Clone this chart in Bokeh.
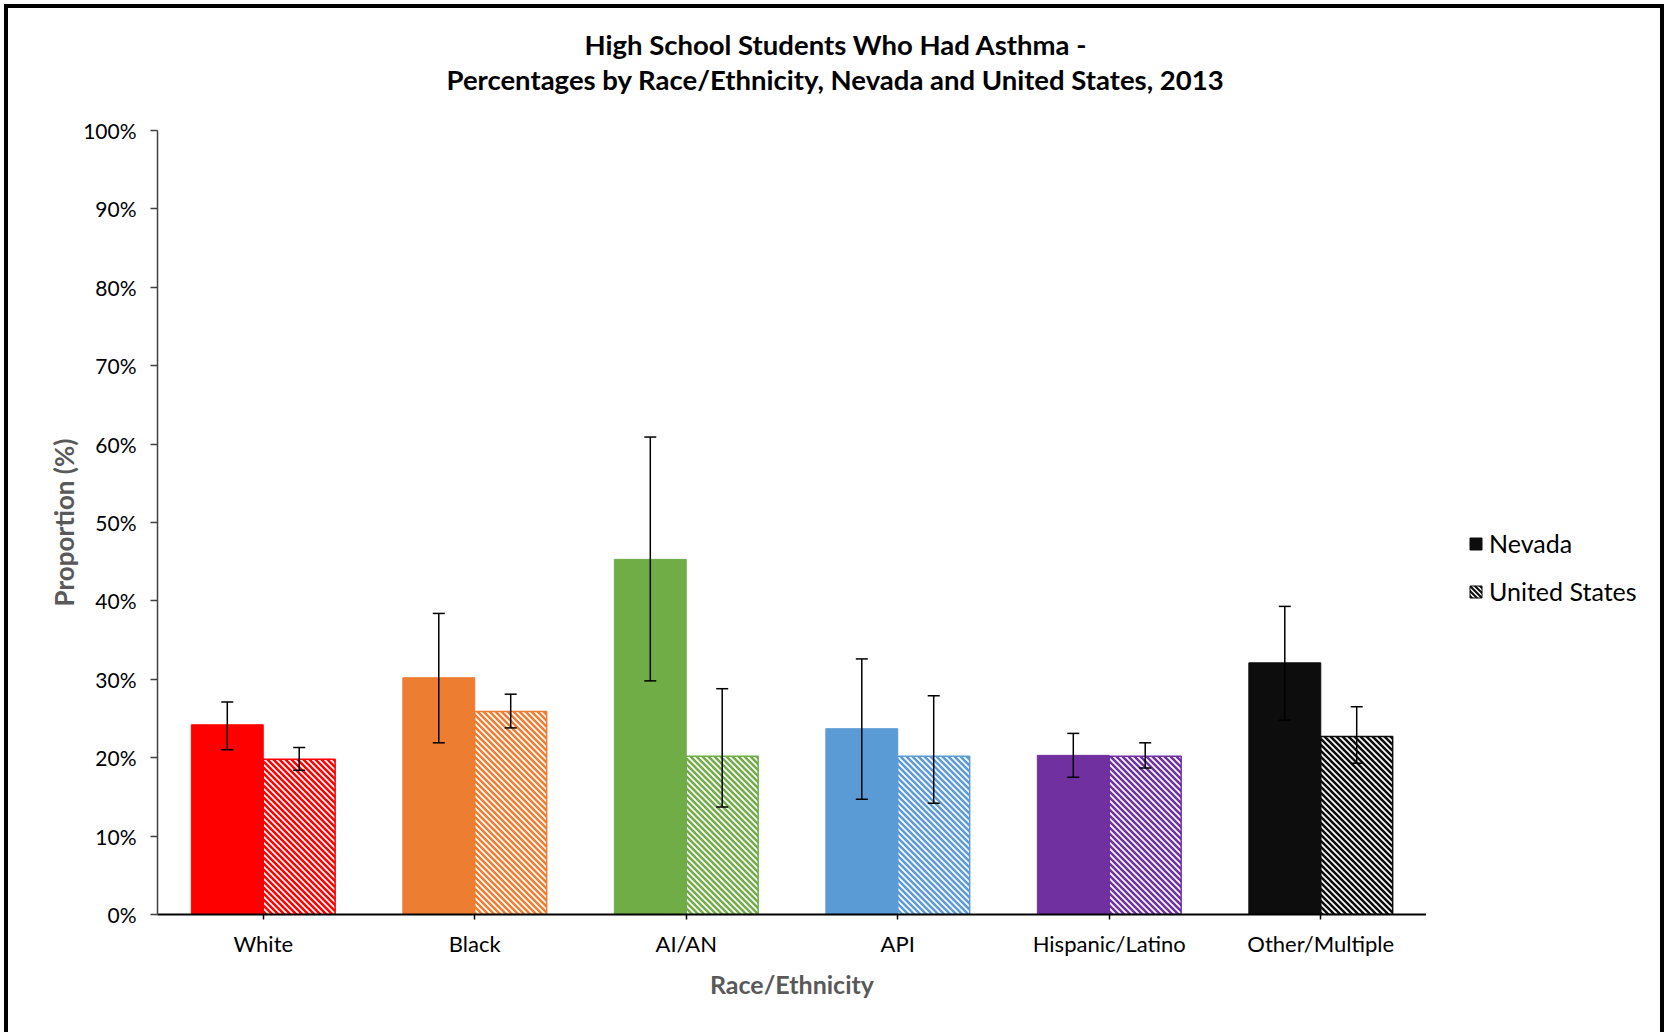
import base64
from bokeh.plotting import figure
from bokeh.layouts import row
from bokeh.models import (ColumnDataSource, FactorRange, Range1d, Whisker, TeeHead,
                          Legend, LegendItem, Title, PrintfTickFormatter, FixedTicker,
                          ImageURLTexture)
from bokeh.transform import dodge
from bokeh.embed import file_html
from bokeh.resources import INLINE

categories = ["White", "Black", "AI/AN", "API", "Hispanic/Latino", "Other/Multiple"]
nevada = [24.2, 30.2, 45.3, 23.7, 20.3, 32.1]
nevada_lower = [21.0, 21.9, 29.8, 14.7, 17.5, 24.8]
nevada_upper = [27.1, 38.4, 60.9, 32.6, 23.1, 39.3]
united_states = [19.8, 25.9, 20.2, 20.2, 20.2, 22.7]
us_lower = [18.4, 23.8, 13.7, 14.2, 18.7, 19.3]
us_upper = [21.3, 28.1, 28.8, 27.9, 21.9, 26.5]
colors = ["#FF0000", "#ED7D31", "#70AD47", "#5B9BD5", "#7030A0", "#0D0D0D"]
series_names = ["Nevada", "United States"]
y_ticks = [0, 10, 20, 30, 40, 50, 60, 70, 80, 90, 100]
title_line1 = "High School Students Who Had Asthma -"
title_line2 = "Percentages by Race/Ethnicity, Nevada and United States, 2013"

FONT = "Lato"


def stripe_texture(color, s=6, frac=0.3):
    """Seamless tile of downward ('\\') diagonal stripes in `color` on white."""
    d = s * frac
    svg = (f'<svg xmlns="http://www.w3.org/2000/svg" width="{s}" height="{s}">'
           f'<rect width="{s}" height="{s}" fill="white"/>'
           f'<path d="M0 0 L{d} 0 L{s} {s-d} L{s} {s} L{s-d} {s} L0 {d} Z '
           f'M{s-d} 0 L{s} 0 L{s} {d} Z M0 {s-d} L0 {s} L{d} {s} Z" fill="{color}"/>'
           f'</svg>')
    url = "data:image/svg+xml;base64," + base64.b64encode(svg.encode()).decode()
    return ImageURLTexture(url=url, repetition="repeat")


pattern_names = ["stripe%d" % i for i in range(len(colors))]
textures = {name: stripe_texture(c) for name, c in zip(pattern_names, colors)}

src = ColumnDataSource(data=dict(
    cat=categories, nv=nevada, nv_lo=nevada_lower, nv_hi=nevada_upper,
    us=united_states, us_lo=us_lower, us_hi=us_upper, color=colors, pat=pattern_names,
))

p = figure(
    x_range=FactorRange(*categories, range_padding=0),
    y_range=Range1d(0, 100),
    width=1418, height=1024, title=None,
    output_backend="svg", toolbar_location=None,
    min_border_left=149, min_border_right=0, min_border_top=122, min_border_bottom=118,
)

# titles: spacer nearest the frame, then line 2, then line 1
spacer = Title(text=" ", text_font_size="1px", standoff=32)
t2 = Title(text=title_line2, align="left", offset=289, standoff=0, text_font=FONT,
           text_font_size="27.5px", text_font_style="bold", text_color="#000000")
t1 = Title(text=title_line1, align="left", offset=427, standoff=0, text_font=FONT,
           text_font_size="27.5px", text_font_style="bold", text_color="#000000")
p.add_layout(spacer, "above")
p.add_layout(t2, "above")
p.add_layout(t1, "above")

W = 0.34
p.vbar(x=dodge("cat", -W / 2, range=p.x_range), top="nv", width=W, source=src,
       fill_color="color", line_color="color", line_width=1)
p.vbar(x=dodge("cat", W / 2, range=p.x_range), top="us", width=W, source=src,
       fill_color="white", line_color="color", line_width=1.5,
       hatch_pattern="pat", hatch_extra=textures)

for off, lo, hi in ((-W / 2, "nv_lo", "nv_hi"), (W / 2, "us_lo", "us_hi")):
    w = Whisker(base=dodge("cat", off, range=p.x_range), lower=lo, upper=hi, source=src,
                level="overlay", line_color="black", line_width=1.5,
                upper_head=TeeHead(size=12, line_color="black", line_width=1.5),
                lower_head=TeeHead(size=12, line_color="black", line_width=1.5))
    p.add_layout(w)

# axes
p.xgrid.grid_line_color = None
p.ygrid.grid_line_color = None
p.outline_line_color = None

p.yaxis.ticker = FixedTicker(ticks=y_ticks)
p.yaxis.formatter = PrintfTickFormatter(format="%d%%")
p.yaxis.axis_label = "Proportion (%)"
p.yaxis.axis_label_text_font = FONT
p.yaxis.axis_label_text_font_size = "26px"
p.yaxis.axis_label_text_font_style = "bold"
p.yaxis.axis_label_text_color = "#595959"
p.yaxis.axis_label_standoff = 0
p.yaxis.major_label_text_font = FONT
p.yaxis.major_label_text_font_size = "21px"
p.yaxis.major_label_text_color = "#000000"
p.yaxis.major_label_standoff = 14
p.yaxis.major_tick_out = 7
p.yaxis.major_tick_in = 0
p.yaxis.minor_tick_line_color = None
p.yaxis.axis_line_color = "#404040"
p.yaxis.axis_line_width = 1.5
p.yaxis.major_tick_line_color = "#404040"
p.yaxis.major_tick_line_width = 1.5

p.xaxis.axis_label = "Race/Ethnicity"
p.xaxis.axis_label_text_font = FONT
p.xaxis.axis_label_text_font_size = "25px"
p.xaxis.axis_label_text_font_style = "bold"
p.xaxis.axis_label_text_color = "#595959"
p.xaxis.axis_label_standoff = 9
p.xaxis.major_label_text_font = FONT
p.xaxis.major_label_text_font_size = "22px"
p.xaxis.major_label_text_color = "#000000"
p.xaxis.major_label_standoff = 10
p.xaxis.major_tick_out = 5
p.xaxis.major_tick_in = 0
p.xaxis.axis_line_color = "#000000"
p.xaxis.axis_line_width = 2
p.xaxis.major_tick_line_color = "#000000"
p.xaxis.major_tick_line_width = 1.5

# legend panel (separate figure to the right of the plot area)
lg = figure(width=234, height=1024, x_range=Range1d(0, 1), y_range=Range1d(0, 1),
            title=None, output_backend="svg", toolbar_location=None,
            x_axis_location=None, y_axis_location=None,
            min_border_left=0, min_border_right=0, min_border_top=0, min_border_bottom=0)
lg.xgrid.grid_line_color = None
lg.ygrid.grid_line_color = None
lg.outline_line_color = None
proxy1 = ColumnDataSource(data=dict(x=[10], bottom=[10], top=[11]))
proxy2 = ColumnDataSource(data=dict(x=[10], bottom=[10], top=[11], pat=["stripe_k"]))
r1 = lg.vbar(x="x", bottom="bottom", top="top", width=0.3, source=proxy1,
             fill_color="#0D0D0D", line_color="#0D0D0D")
r2 = lg.vbar(x="x", bottom="bottom", top="top", width=0.3, source=proxy2,
             fill_color="white", line_color="#0D0D0D", line_width=1,
             hatch_pattern="pat", hatch_extra={"stripe_k": stripe_texture("#0D0D0D", 5)})
legend = Legend(items=[LegendItem(label=series_names[0], renderers=[r1]),
                       LegendItem(label=series_names[1], renderers=[r2])],
                location=(42, 308), border_line_color=None, background_fill_alpha=0,
                padding=0, margin=0, glyph_width=15, glyph_height=15, label_standoff=6,
                spacing=18, label_text_font=FONT, label_text_font_size="25px",
                label_text_color="#000000")
lg.add_layout(legend)

layout = row(p, lg, styles={"margin-left": "4px", "margin-top": "4px",
                            "border-top": "4px solid black", "border-left": "4px solid black",
                            "border-right": "4px solid black"})

open("out.html", "w").write(file_html(layout, INLINE))
